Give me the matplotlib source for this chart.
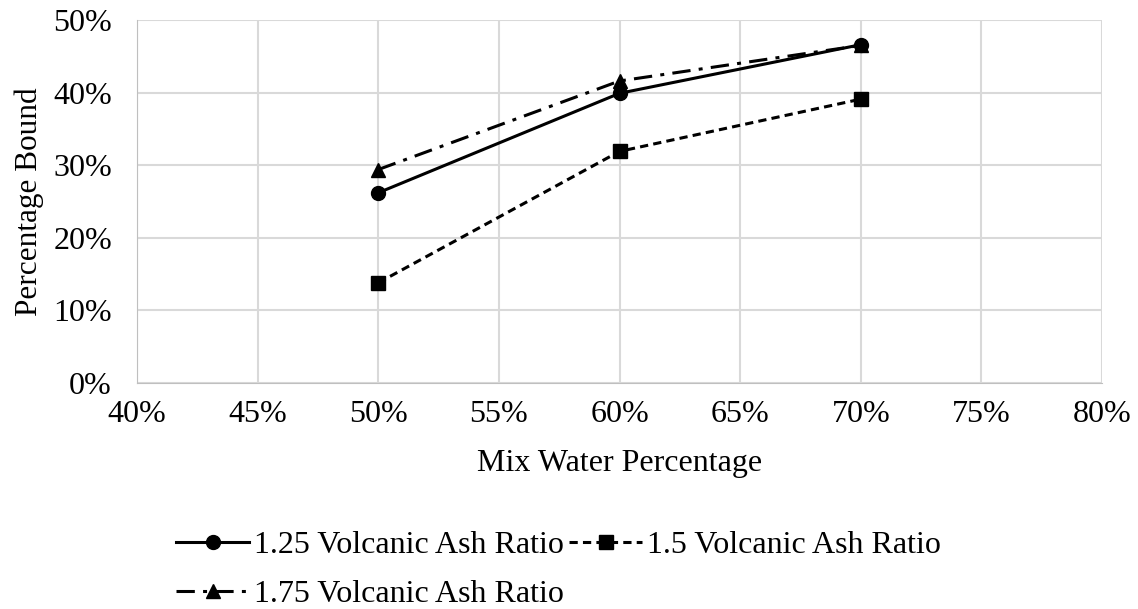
import matplotlib.pyplot as plt
from matplotlib.ticker import PercentFormatter

plt.rcParams['font.family'] = ['Liberation Serif', 'DejaVu Serif']

# data
mix_water = [50, 60, 70]
ratio_125 = [26.2, 39.9, 46.6]
ratio_150 = [13.8, 31.9, 39.1]
ratio_175 = [29.4, 41.6, 46.5]
labels = ['1.25 Volcanic Ash Ratio', '1.5 Volcanic Ash Ratio', '1.75 Volcanic Ash Ratio']

fig = plt.figure(figsize=(11.38, 6.09), dpi=100)
ax = fig.add_axes([137 / 1138, 1 - 383 / 609, (1102 - 137) / 1138, (383 - 20) / 609])

l1, = ax.plot(mix_water, ratio_125, color='black', lw=2.2, ls='-', marker='o', ms=10, label=labels[0])
l2, = ax.plot(mix_water, ratio_150, color='black', lw=2.2, ls=(0, (2.7, 1.7)), marker='s', ms=10, label=labels[1])
l3, = ax.plot(mix_water, ratio_175, color='black', lw=2.2, ls=(0, (6, 2.7, 1.3, 2.7)), marker='^', ms=10, label=labels[2])

ax.set_xlim(40, 80)
ax.set_ylim(0, 50)
ax.set_xticks(range(40, 81, 5))
ax.set_yticks(range(0, 51, 10))
ax.xaxis.set_major_formatter(PercentFormatter(decimals=0))
ax.yaxis.set_major_formatter(PercentFormatter(decimals=0))
ax.grid(True, color='#d9d9d9', lw=1.5)
ax.set_axisbelow(True)
for s in ax.spines.values():
    s.set_visible(False)
ax.spines['left'].set_visible(True)
ax.spines['bottom'].set_visible(True)
ax.spines['left'].set_color('#bfbfbf')
ax.spines['bottom'].set_color('#bfbfbf')
ax.tick_params(length=0, labelsize=23)
ax.tick_params(axis='x', pad=12)
ax.tick_params(axis='y', pad=18)

ax.set_xlabel('Mix Water Percentage', fontsize=23, labelpad=15)
ax.set_ylabel('Percentage Bound', fontsize=22.5, labelpad=7)

fig.legend([l1, l3, l2], [labels[0], labels[2], labels[1]], ncol=2, frameon=False,
           loc='upper left', bbox_to_anchor=(160 / 1138, 1 - 515 / 609),
           fontsize=23, handlelength=2.3, handletextpad=0.15, columnspacing=0.15,
           labelspacing=0.6, borderpad=0)

fig.savefig('out.png', dpi=100)
